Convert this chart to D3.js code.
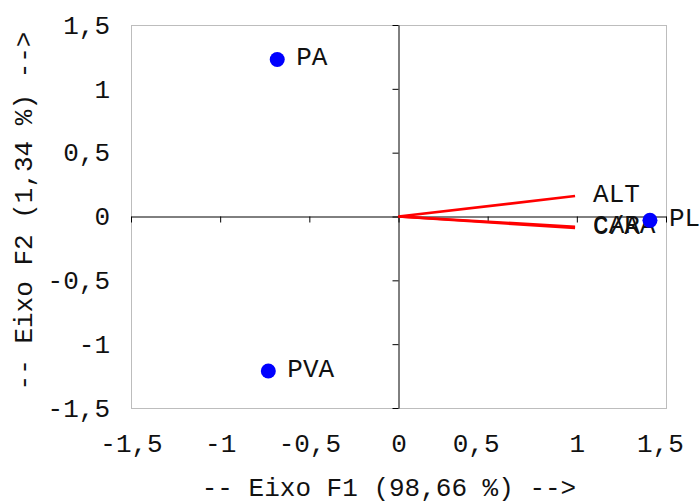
<!DOCTYPE html>
<html>
<head>
<meta charset="utf-8">
<script src="https://cdn.jsdelivr.net/npm/d3@7"></script>
<style>
  body { margin: 0; background: #fff; }
  text { font-family: "Liberation Mono", "Courier New", monospace; fill: #111; }
</style>
</head>
<body>
<svg id="chart" width="700" height="502"></svg>
<script>
// observations (factor scores)
const obsNames = ['PA', 'PVA', 'PL'];
const obsF1 = [-0.68, -0.73, 1.41];
const obsF2 = [1.23, -1.21, -0.03];

// variables (loadings)
const varNames = ['ALT', 'CARA', 'C/A'];
const varF1 = [0.99, 0.99, 0.99];
const varF2 = [0.16, -0.08, -0.09];

const tickValues = [-1.5, -1, -0.5, 0, 0.5, 1, 1.5];
const xTitle = '-- Eixo F1 (98,66 %) -->';
const yTitle = '-- Eixo F2 (1,34 %) -->';

const ptLocale = d3.formatLocale({ decimal: ',', thousands: '.', grouping: [3], currency: ['', ''], minus: '-' });
const fmt = ptLocale.format('');

const svg = d3.select('#chart');
const plotLeft = 131, plotRight = 666, plotTop = 25, plotBottom = 408;

const x = d3.scaleLinear().domain([-1.5, 1.5]).range([plotLeft, plotRight]);
const y = d3.scaleLinear().domain([-1.5, 1.5]).range([plotBottom, plotTop]);

// plot frame
svg.append('rect')
  .attr('x', plotLeft + 0.5).attr('y', plotTop + 0.5)
  .attr('width', plotRight - plotLeft).attr('height', plotBottom - plotTop)
  .attr('fill', 'none')
  .attr('stroke', '#bdbdbd');

// tick labels, bottom
// the original nudges the positive decimal labels a bit to the left
const nudge = v => (v === 0.5 ? -12 : v === 1.5 ? -6 : 0);
const xLab = svg.append('g')
  .attr('transform', `translate(0,${plotBottom})`)
  .call(d3.axisBottom(x).tickValues(tickValues).tickFormat(fmt).tickSize(0).tickPadding(26));
xLab.select('.domain').remove();
xLab.selectAll('text')
  .attr('x', d => nudge(d))
  .style('font-size', '26px');

// tick labels, left
const yLab = svg.append('g')
  .attr('transform', `translate(${plotLeft},0)`)
  .call(d3.axisLeft(y).tickValues(tickValues).tickFormat(fmt).tickSize(0).tickPadding(21));
yLab.select('.domain').remove();
yLab.selectAll('text').style('font-size', '26px');
xLab.attr('font-family', null);
yLab.attr('font-family', null);

// axes through the origin
const xAxis = svg.append('g')
  .attr('transform', `translate(0,${y(0)})`)
  .call(d3.axisBottom(x).tickValues(tickValues).tickFormat('').tickSize(6).tickSizeOuter(0));
const yAxis = svg.append('g')
  .attr('transform', `translate(${x(0)},0)`)
  .call(d3.axisLeft(y).tickValues(tickValues).tickFormat('').tickSize(6).tickSizeOuter(0));
[xAxis, yAxis].forEach(a => {
  a.select('.domain').attr('stroke', '#000');
  a.selectAll('.tick line').attr('stroke', '#000');
});

// variable vectors
const vars = varNames.map((n, i) => ({ name: n, f1: varF1[i], f2: varF2[i] }));
svg.append('g').selectAll('line')
  .data(vars)
  .enter()
  .append('line')
  .attr('x1', x(0)).attr('y1', y(0))
  .attr('x2', d => x(d.f1)).attr('y2', d => y(d.f2))
  .attr('stroke', '#ff0000')
  .attr('stroke-width', 2.6);

svg.append('g').selectAll('text')
  .data(vars)
  .enter()
  .append('text')
  .attr('x', d => x(d.f1) + 18)
  .attr('y', d => y(d.f2) + 6)
  .style('font-size', '26px')
  .text(d => d.name);

// observations
const obs = obsNames.map((n, i) => ({ name: n, f1: obsF1[i], f2: obsF2[i] }));
const node = svg.append('g').selectAll('g')
  .data(obs)
  .enter()
  .append('g')
  .attr('transform', d => `translate(${x(d.f1)},${y(d.f2)})`);
node.append('circle')
  .attr('r', 7.5)
  .attr('fill', '#0000ff');
node.append('text')
  .attr('x', 19)
  .attr('y', 6)
  .style('font-size', '26px')
  .text(d => d.name);

// axis titles
svg.append('text')
  .attr('x', 389).attr('y', 496)
  .attr('text-anchor', 'middle')
  .style('font-size', '26px')
  .text(xTitle);
svg.append('text')
  .attr('transform', 'translate(32,211) rotate(-90)')
  .attr('text-anchor', 'middle')
  .style('font-size', '26px')
  .text(yTitle);
</script>
</body>
</html>
